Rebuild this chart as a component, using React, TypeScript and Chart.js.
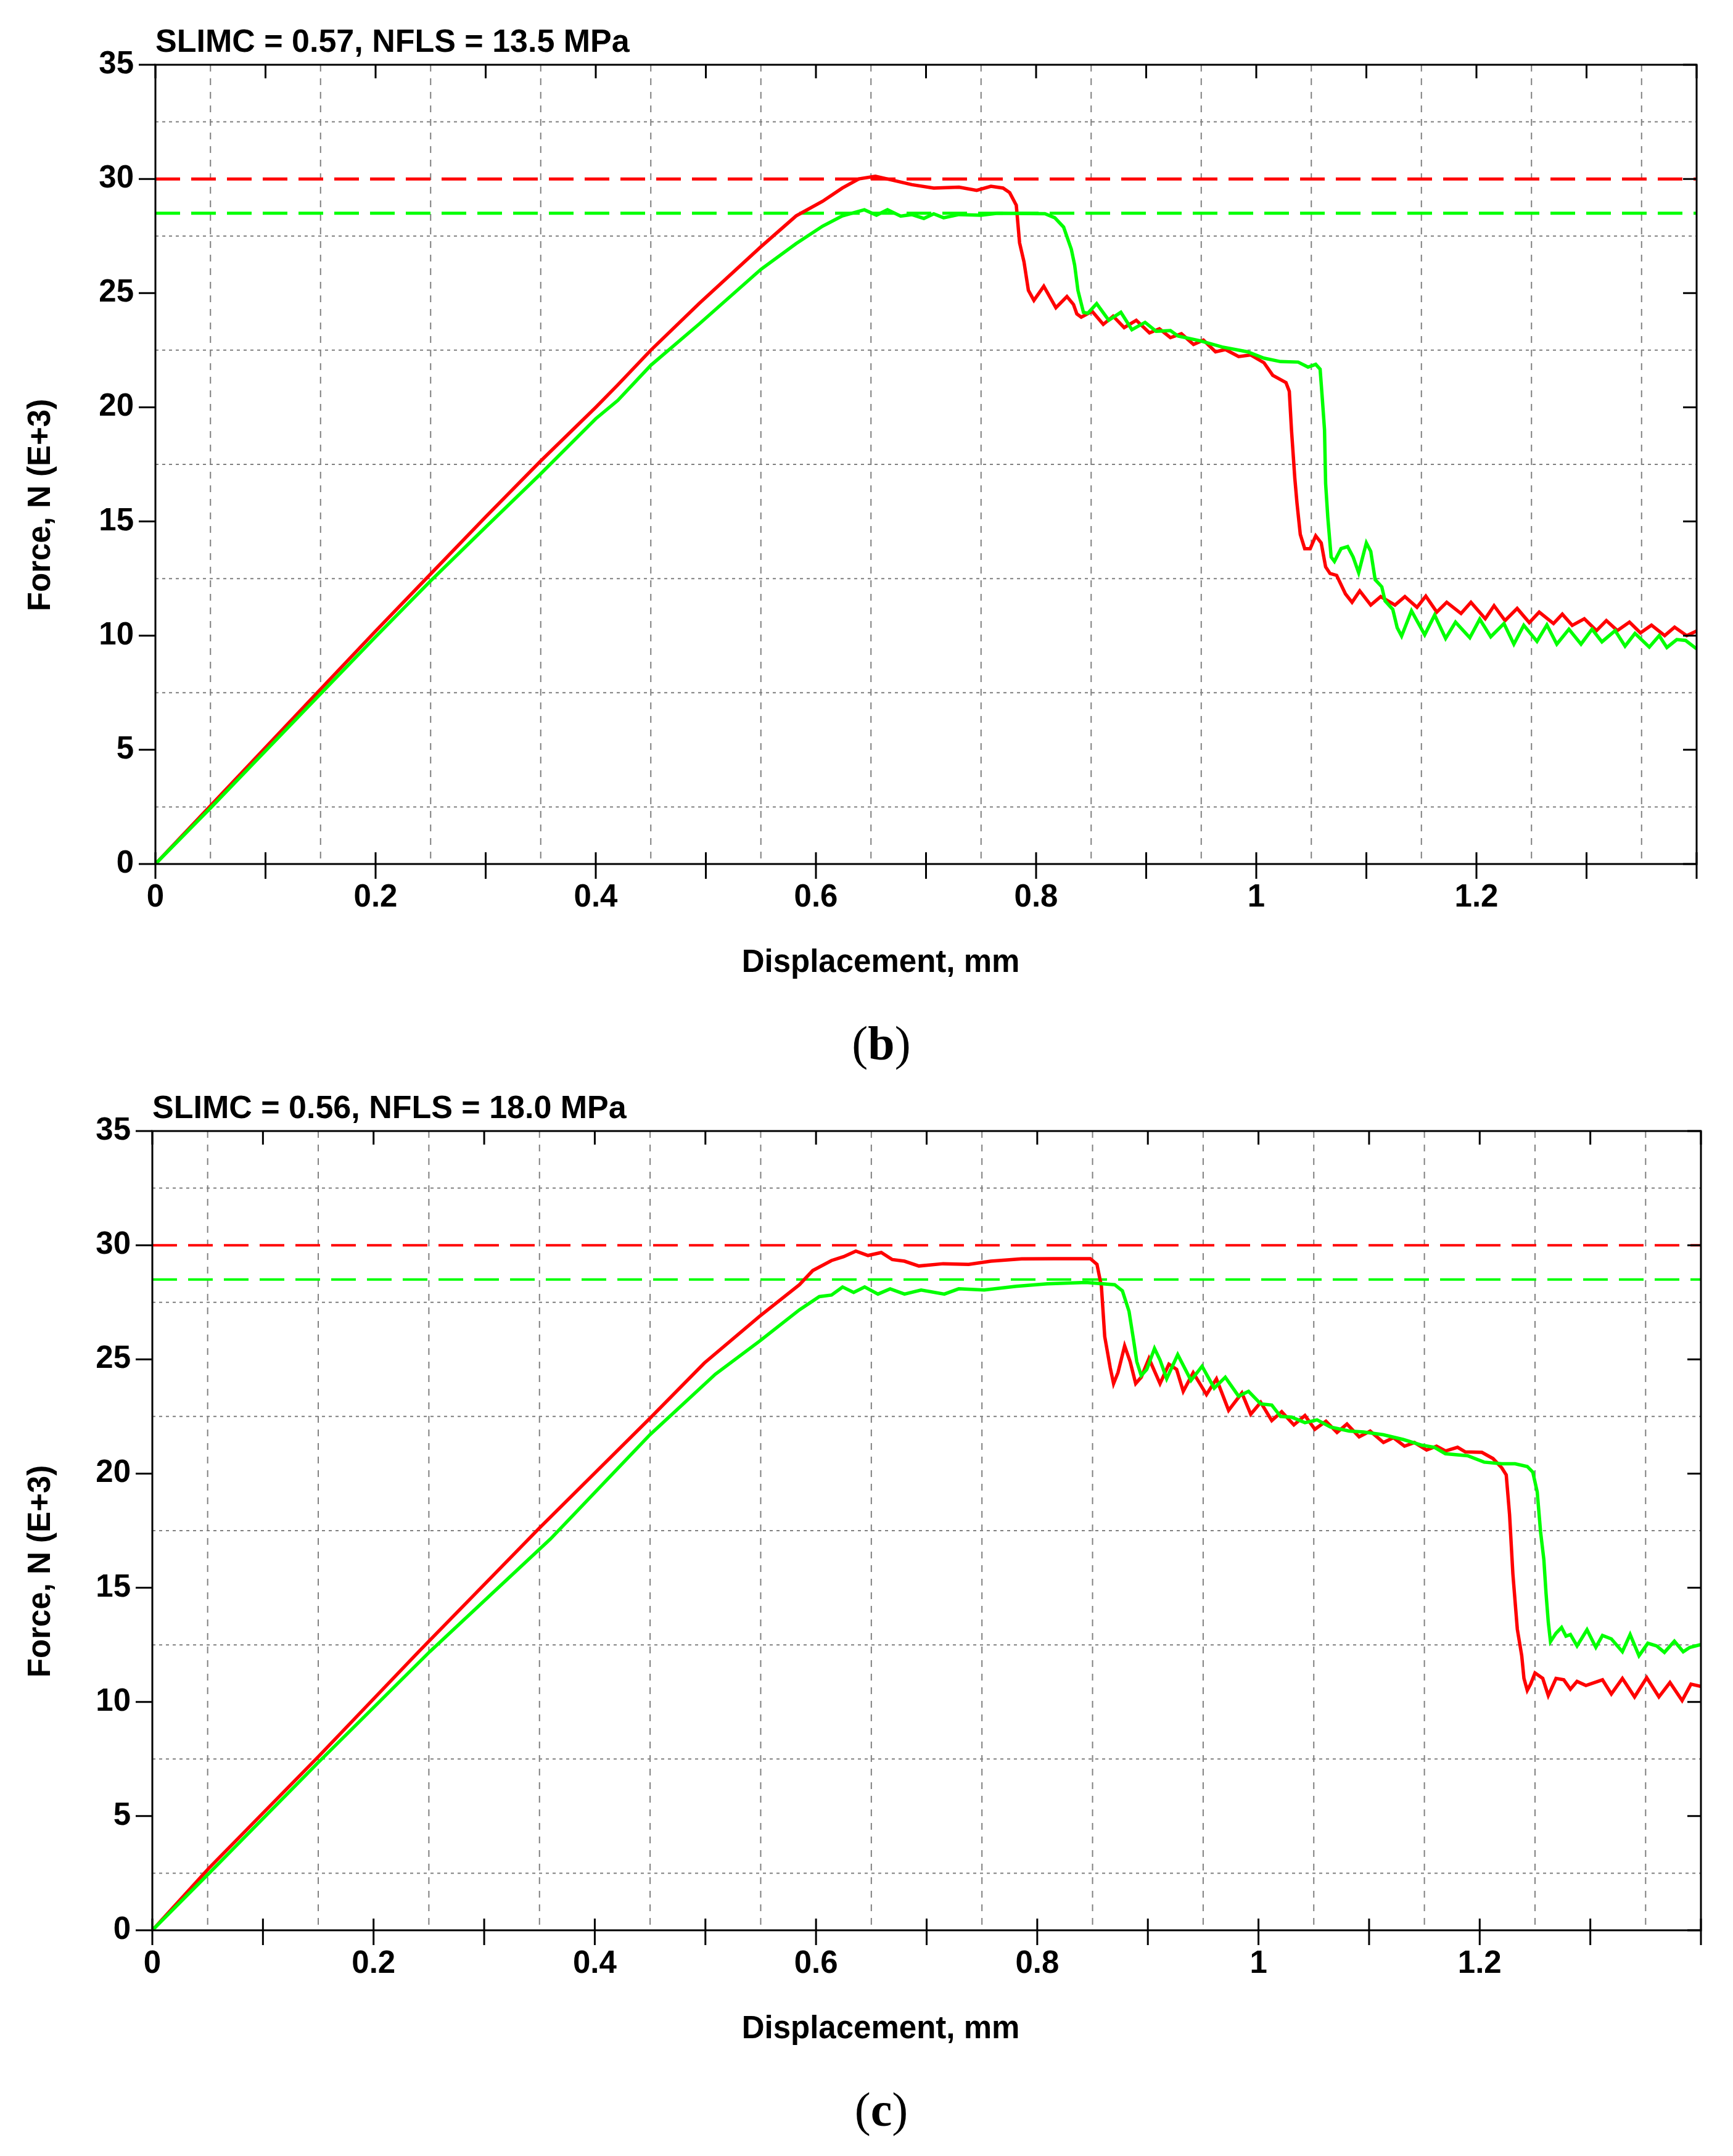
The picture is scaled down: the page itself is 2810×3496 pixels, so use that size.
import React, { useEffect, useRef } from 'react';
import { Chart, registerables } from 'chart.js';

Chart.register(...registerables);

type Pt = [number, number];

// axis ticks / labels
const X_LABELS = [0, 0.2, 0.4, 0.6, 0.8, 1, 1.2];
const Y_LABELS = [0, 5, 10, 15, 20, 25, 30, 35];
const X_TICKS = [0, 0.1, 0.2, 0.3, 0.4, 0.5, 0.6, 0.7, 0.8, 0.9, 1, 1.1, 1.2, 1.3, 1.4];
const X_GRID = [0.05, 0.15, 0.25, 0.35, 0.45, 0.55, 0.65, 0.75, 0.85, 0.95, 1.05, 1.15, 1.25, 1.35];
const Y_GRID = [2.5, 7.5, 12.5, 17.5, 22.5, 27.5, 32.5];

// reference levels (dashed)
const RED_LIMIT = 30;
const GREEN_LIMIT = 28.5;

// panel (b): displacement mm, force kN
const redB: Pt[] = [
  [0, 0], [0.05, 2.55], [0.1, 5.1], [0.15, 7.65], [0.2, 10.2], [0.25, 12.7], [0.3, 15.2], [0.349, 17.6],
  [0.4, 20.0], [0.42, 20.98], [0.45, 22.5], [0.494, 24.55], [0.55, 27.03], [0.582, 28.38], [0.606, 29.02],
  [0.624, 29.6], [0.639, 30.0], [0.654, 30.12], [0.672, 29.92], [0.687, 29.75], [0.707, 29.6], [0.73, 29.64],
  [0.746, 29.5], [0.759, 29.68], [0.77, 29.6], [0.776, 29.4], [0.782, 28.85], [0.785, 27.2], [0.789, 26.37],
  [0.793, 25.12], [0.798, 24.68], [0.807, 25.3], [0.818, 24.36], [0.828, 24.85], [0.834, 24.5], [0.837, 24.09],
  [0.841, 23.95], [0.851, 24.2], [0.861, 23.63], [0.87, 23.99], [0.88, 23.49], [0.891, 23.81], [0.903, 23.26],
  [0.912, 23.44], [0.922, 23.05], [0.932, 23.22], [0.943, 22.75], [0.952, 22.94], [0.963, 22.43], [0.972, 22.53],
  [0.984, 22.22], [0.995, 22.29], [1.007, 21.95], [1.015, 21.4], [1.027, 21.08], [1.03, 20.7], [1.032, 19.0],
  [1.035, 16.9], [1.037, 15.8], [1.04, 14.43], [1.044, 13.81], [1.049, 13.81], [1.054, 14.37], [1.059, 14.06],
  [1.063, 13.01], [1.067, 12.72], [1.073, 12.64], [1.081, 11.83], [1.087, 11.46], [1.094, 11.96], [1.104, 11.34],
  [1.113, 11.71], [1.126, 11.34], [1.135, 11.71], [1.146, 11.24], [1.154, 11.73], [1.164, 11.03], [1.173, 11.46],
  [1.186, 10.97], [1.195, 11.46], [1.208, 10.74], [1.216, 11.31], [1.226, 10.66], [1.237, 11.19], [1.248, 10.57],
  [1.257, 11.03], [1.27, 10.53], [1.278, 10.94], [1.287, 10.45], [1.298, 10.74], [1.309, 10.22], [1.318, 10.66],
  [1.328, 10.22], [1.339, 10.59], [1.349, 10.12], [1.359, 10.46], [1.371, 10.0], [1.38, 10.37], [1.391, 10.0],
  [1.4, 10.2],
];

const greenB: Pt[] = [
  [0, 0], [0.05, 2.45], [0.1, 4.95], [0.15, 7.45], [0.2, 9.95], [0.25, 12.4], [0.3, 14.75], [0.349, 17.04],
  [0.4, 19.5], [0.42, 20.3], [0.45, 21.84], [0.494, 23.65], [0.55, 26.04], [0.582, 27.17], [0.606, 27.93],
  [0.624, 28.38], [0.644, 28.65], [0.655, 28.41], [0.665, 28.65], [0.677, 28.37], [0.687, 28.44], [0.698, 28.27],
  [0.707, 28.47], [0.716, 28.3], [0.73, 28.44], [0.75, 28.41], [0.765, 28.5], [0.808, 28.48], [0.817, 28.3],
  [0.825, 27.89], [0.832, 26.92], [0.835, 26.23], [0.838, 25.12], [0.843, 24.16], [0.847, 24.12], [0.855, 24.54],
  [0.866, 23.81], [0.877, 24.16], [0.887, 23.4], [0.899, 23.72], [0.909, 23.33], [0.922, 23.36], [0.929, 23.12],
  [0.949, 22.91], [0.969, 22.64], [0.992, 22.43], [1.007, 22.15], [1.022, 22.0], [1.038, 21.98], [1.047, 21.76],
  [1.054, 21.88], [1.058, 21.67], [1.06, 20.37], [1.062, 19.01], [1.063, 16.66], [1.065, 15.17], [1.068, 13.44],
  [1.071, 13.25], [1.077, 13.81], [1.083, 13.9], [1.088, 13.44], [1.093, 12.76], [1.1, 14.06], [1.104, 13.69],
  [1.108, 12.45], [1.114, 12.14], [1.117, 11.52], [1.124, 11.15], [1.128, 10.35], [1.132, 9.98], [1.141, 11.09],
  [1.153, 10.04], [1.162, 10.9], [1.172, 9.88], [1.181, 10.59], [1.194, 9.91], [1.203, 10.72], [1.213, 9.95],
  [1.225, 10.53], [1.234, 9.63], [1.243, 10.45], [1.255, 9.75], [1.264, 10.47], [1.273, 9.63], [1.284, 10.28],
  [1.295, 9.63], [1.305, 10.28], [1.314, 9.73], [1.326, 10.22], [1.335, 9.54], [1.344, 10.1], [1.357, 9.5],
  [1.366, 10.0], [1.373, 9.48], [1.382, 9.83], [1.39, 9.79], [1.4, 9.42],
];

// panel (c)
const redC: Pt[] = [
  [0, 0], [0.051, 2.71], [0.15, 7.6], [0.241, 12.21], [0.35, 17.62], [0.45, 22.43], [0.499, 24.84],
  [0.549, 26.89], [0.585, 28.27], [0.597, 28.89], [0.614, 29.33], [0.625, 29.5], [0.636, 29.74], [0.647, 29.55],
  [0.659, 29.68], [0.669, 29.37], [0.68, 29.3], [0.693, 29.09], [0.715, 29.19], [0.738, 29.16], [0.758, 29.3],
  [0.786, 29.4], [0.815, 29.41], [0.848, 29.41], [0.854, 29.16], [0.858, 28.2], [0.861, 26.0], [0.866, 24.63],
  [0.869, 23.94], [0.873, 24.42], [0.879, 25.59], [0.884, 24.9], [0.889, 23.94], [0.894, 24.22], [0.901, 25.04],
  [0.911, 23.94], [0.919, 24.79], [0.926, 24.56], [0.932, 23.6], [0.941, 24.42], [0.953, 23.46], [0.962, 24.15],
  [0.973, 22.77], [0.985, 23.53], [0.993, 22.6], [1.002, 23.12], [1.012, 22.32], [1.021, 22.71], [1.032, 22.13],
  [1.042, 22.54], [1.051, 21.94], [1.061, 22.29], [1.071, 21.8], [1.08, 22.17], [1.091, 21.61], [1.101, 21.86],
  [1.113, 21.36], [1.122, 21.57], [1.132, 21.2], [1.141, 21.36], [1.152, 21.03], [1.161, 21.2], [1.169, 20.99],
  [1.18, 21.15], [1.187, 20.95], [1.202, 20.93], [1.212, 20.66], [1.22, 20.25], [1.224, 19.94], [1.227, 18.2],
  [1.23, 15.6], [1.234, 13.19], [1.238, 12.02], [1.24, 11.03], [1.243, 10.51], [1.246, 10.78], [1.25, 11.27],
  [1.257, 11.03], [1.262, 10.28], [1.269, 11.03], [1.276, 10.97], [1.282, 10.56], [1.288, 10.9], [1.296, 10.72],
  [1.311, 10.97], [1.319, 10.35], [1.329, 11.03], [1.34, 10.22], [1.351, 11.06], [1.362, 10.22], [1.372, 10.85],
  [1.383, 10.06], [1.391, 10.78], [1.4, 10.68],
];

const greenC: Pt[] = [
  [0, 0], [0.051, 2.48], [0.15, 7.35], [0.251, 12.21], [0.36, 17.14], [0.45, 21.71], [0.509, 24.35],
  [0.549, 25.8], [0.585, 27.17], [0.603, 27.75], [0.614, 27.82], [0.624, 28.17], [0.634, 27.93], [0.644, 28.17],
  [0.656, 27.86], [0.667, 28.09], [0.68, 27.86], [0.695, 28.04], [0.716, 27.86], [0.729, 28.09], [0.752, 28.04],
  [0.781, 28.2], [0.809, 28.31], [0.844, 28.37], [0.87, 28.27], [0.877, 28.0], [0.883, 27.1], [0.887, 25.87],
  [0.89, 24.9], [0.894, 24.29], [0.899, 24.56], [0.906, 25.48], [0.911, 24.97], [0.917, 24.15], [0.927, 25.21],
  [0.939, 24.08], [0.949, 24.7], [0.96, 23.74], [0.97, 24.22], [0.982, 23.39], [0.991, 23.6], [1.002, 23.05],
  [1.012, 23.0], [1.02, 22.5], [1.03, 22.47], [1.042, 22.23], [1.053, 22.35], [1.065, 22.04], [1.082, 21.86],
  [1.095, 21.82], [1.113, 21.7], [1.131, 21.49], [1.148, 21.24], [1.159, 21.15], [1.169, 20.87], [1.189, 20.78],
  [1.204, 20.5], [1.22, 20.43], [1.232, 20.43], [1.243, 20.31], [1.248, 20.06], [1.252, 19.2], [1.255, 17.46],
  [1.258, 16.23], [1.26, 14.74], [1.262, 13.5], [1.264, 12.64], [1.269, 13.01], [1.274, 13.26], [1.278, 12.88],
  [1.282, 12.95], [1.288, 12.45], [1.297, 13.16], [1.305, 12.39], [1.311, 12.91], [1.319, 12.76], [1.329, 12.2],
  [1.336, 12.95], [1.344, 12.02], [1.352, 12.57], [1.36, 12.45], [1.367, 12.17], [1.376, 12.66], [1.384, 12.2],
  [1.39, 12.39], [1.4, 12.51],
];

const RED = '#ff0000';
const GREEN = '#00ff00';
const GRID = '#808080';
const FONT = '"Liberation Sans", Arial, Helvetica, sans-serif';
const W = 2810;
const H = 1650;

interface Area { left: number; right: number; top: number; bottom: number }

interface Panel {
  title: string;
  tag: string;
  red: Pt[];
  green: Pt[];
  top: number;
  area: Area;
  limitWidth: number;
}

const panels: Panel[] = [
  { title: 'SLIMC = 0.57, NFLS = 13.5 MPa', tag: 'b', red: redB, green: greenB, top: 0,
    area: { left: 252, right: 2751, top: 105, bottom: 1401 }, limitWidth: 5 },
  { title: 'SLIMC = 0.56, NFLS = 18.0 MPa', tag: 'c', red: redC, green: greenC, top: 1729,
    area: { left: 247, right: 2758, top: 105, bottom: 1401 }, limitWidth: 4 },
];

// grid between ticks, frame, inner ticks and the texts
const framePlugin = {
  id: 'frame',
  beforeDatasetsDraw(chart: any) {
    const { ctx, chartArea: a, scales } = chart;
    const { x, y } = scales;
    ctx.save();
    ctx.strokeStyle = GRID;
    ctx.lineWidth = 2;
    ctx.setLineDash([11, 11]);
    ctx.beginPath();
    X_GRID.forEach((v) => {
      const px = x.getPixelForValue(v);
      ctx.moveTo(px, a.top);
      ctx.lineTo(px, a.bottom);
    });
    ctx.stroke();
    ctx.setLineDash([5, 6]);
    ctx.beginPath();
    Y_GRID.forEach((v) => {
      const py = y.getPixelForValue(v);
      ctx.moveTo(a.left, py);
      ctx.lineTo(a.right, py);
    });
    ctx.stroke();
    ctx.restore();
  },
  afterDatasetsDraw(chart: any, _args: any, opts: any) {
    const { ctx, chartArea: a, scales } = chart;
    const { x, y } = scales;
    ctx.save();
    ctx.strokeStyle = '#000';
    ctx.lineWidth = 3;
    ctx.setLineDash([]);
    ctx.strokeRect(a.left, a.top, a.right - a.left, a.bottom - a.top);
    ctx.beginPath();
    X_TICKS.forEach((v) => {
      const px = x.getPixelForValue(v);
      ctx.moveTo(px, a.bottom + 24);
      ctx.lineTo(px, a.bottom - 19);
      ctx.moveTo(px, a.top);
      ctx.lineTo(px, a.top + 22);
    });
    Y_LABELS.forEach((v) => {
      const py = y.getPixelForValue(v);
      ctx.moveTo(a.left - 27, py);
      ctx.lineTo(a.left, py);
      ctx.moveTo(a.right, py);
      ctx.lineTo(a.right - 22, py);
    });
    ctx.stroke();

    ctx.fillStyle = '#000';
    ctx.font = `bold 52px ${FONT}`;
    ctx.textAlign = 'left';
    ctx.textBaseline = 'alphabetic';
    ctx.fillText(opts.title, a.left, a.top - 21);
    ctx.font = `bold 51px ${FONT}`;
    ctx.textAlign = 'center';
    ctx.textBaseline = 'middle';
    ctx.fillText('Displacement, mm', 1428, a.bottom + 161);
    ctx.translate(67, (a.top + a.bottom) / 2 + 66);
    ctx.rotate(-Math.PI / 2);
    ctx.fillText('Force, N (E+3)', 0, 0);
    ctx.restore();
  },
};

const tickFont = { family: FONT, size: 51, weight: 'bold' as const };

function buildConfig(p: Panel): any {
  const line = (data: Pt[], color: string, width: number, dash: number[] = []) => ({
    data: data.map(([x, y]) => ({ x, y })),
    borderColor: color,
    borderWidth: width,
    borderDash: dash,
    pointRadius: 0,
    tension: 0,
    fill: false,
  });
  return {
    type: 'line',
    data: {
      datasets: [
        { label: 'green', ...line(p.green, GREEN, 5.5) },
        { label: 'red', ...line(p.red, RED, 5.5) },
        { label: 'red level', ...line([[0, RED_LIMIT], [1.4, RED_LIMIT]], RED, p.limitWidth, [40, 18]) },
        { label: 'green level', ...line([[0, GREEN_LIMIT], [1.4, GREEN_LIMIT]], GREEN, p.limitWidth, [40, 18]) },
      ],
    },
    options: {
      animation: false,
      responsive: false,
      devicePixelRatio: 1,
      events: [],
      layout: { padding: { left: 0, top: p.area.top, right: W - p.area.right, bottom: 0 } },
      scales: {
        x: {
          type: 'linear',
          min: 0,
          max: 1.4,
          afterBuildTicks: (s: any) => { s.ticks = X_LABELS.map((value) => ({ value })); },
          afterFit: (s: any) => { s.height = H - p.area.bottom; },
          grid: { display: false, drawTicks: false },
          border: { display: false },
          ticks: { font: tickFont, color: '#000', padding: 24, maxRotation: 0, autoSkip: false,
            callback: (v: number) => String(v) },
        },
        y: {
          type: 'linear',
          min: 0,
          max: 35,
          afterBuildTicks: (s: any) => { s.ticks = Y_LABELS.map((value) => ({ value })); },
          afterFit: (s: any) => { s.width = p.area.left; },
          grid: { display: false, drawTicks: false },
          border: { display: false },
          ticks: { font: tickFont, color: '#000', padding: 35, callback: (v: number) => String(v) },
        },
      },
      plugins: {
        legend: { display: false },
        tooltip: { enabled: false },
        frame: { title: p.title },
      },
    },
    plugins: [framePlugin],
  };
}

const ForcePanel: React.FC<{ panel: Panel }> = ({ panel }) => {
  const canvasRef = useRef<HTMLCanvasElement>(null);

  useEffect(() => {
    if (!canvasRef.current) return;
    const chart = new Chart(canvasRef.current, buildConfig(panel));
    return () => chart.destroy();
  }, [panel]);

  return (
    <>
      <canvas
        ref={canvasRef}
        width={W}
        height={H}
        style={{ position: 'absolute', left: 0, top: panel.top, width: W, height: H }}
      />
      <div
        style={{
          position: 'absolute', left: 1329, width: 200, top: panel.top + panel.area.bottom + 246,
          textAlign: 'center', font: '78px/90px "Liberation Serif", "DejaVu Serif", serif', color: '#000',
        }}
      >
        (<b>{panel.tag}</b>)
      </div>
    </>
  );
};

export default function App() {
  return (
    <div style={{ position: 'absolute', left: 0, top: 0, width: W, height: 3496, background: '#fff', overflow: 'hidden' }}>
      {panels.map((p) => <ForcePanel key={p.tag} panel={p} />)}
    </div>
  );
}
